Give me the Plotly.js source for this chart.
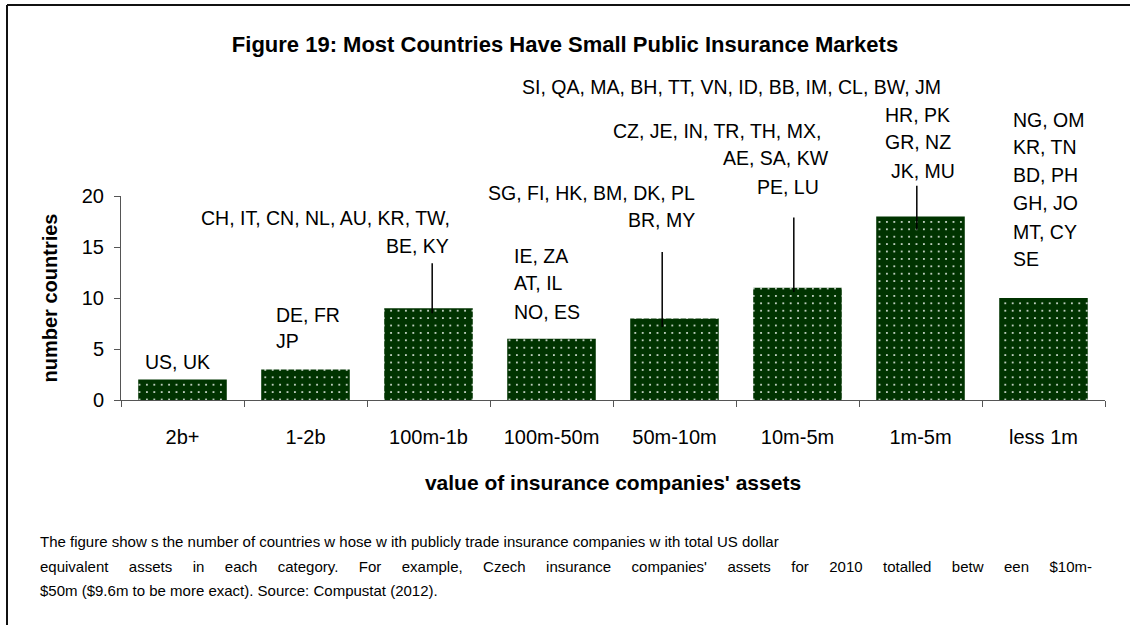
<!DOCTYPE html>
<html>
<head>
<meta charset="utf-8">
<script src="https://cdn.plot.ly/plotly-3.0.1.min.js"></script>
<style>
html,body{margin:0;padding:0;background:#fff;}
#chart{width:1130px;height:625px;}
</style>
</head>
<body>
<div id="chart"></div>
<script>
// ---- data ----
const categories = ["2b+", "1-2b", "100m-1b", "100m-50m", "50m-10m", "10m-5m", "1m-5m", "less 1m"];
const countryCounts = [2, 3, 9, 6, 8, 11, 18, 10];
const countryLabels = [
  ["US, UK"],
  ["DE, FR", "JP"],
  ["CH, IT, CN, NL, AU, KR, TW,", "BE, KY"],
  ["IE, ZA", "AT, IL", "NO, ES"],
  ["SG, FI, HK, BM, DK, PL", "BR, MY"],
  ["CZ, JE, IN, TR, TH, MX,", "AE, SA, KW", "PE, LU"],
  ["SI, QA, MA, BH, TT, VN, ID, BB, IM, CL, BW, JM", "HR, PK", "GR, NZ", "JK, MU"],
  ["NG, OM", "KR, TN", "BD, PH", "GH, JO", "MT, CY", "SE"]
];
const yTicks = [0, 5, 10, 15, 20];
const captionLines = [
  "The figure show s the number of countries w hose w ith publicly trade insurance companies w ith total US dollar",
  "equivalent assets in each category. For example, Czech insurance companies' assets for 2010 totalled betw een $10m-",
  "$50m ($9.6m to be more exact). Source: Compustat (2012)."
];

// ---- label placement (layout only): [xshift px, height in axis units, anchor] per line ----
const labelPlacement = [
  [[-5, 3.73, "center"]],
  [[-31.5, 8.33, "left"], [-31.5, 5.78, "left"]],
  [[23.5, 17.84, "right"], [22.5, 15.1, "right"]],
  [[-39.5, 14.1, "left"], [-39.5, 11.47, "left"], [-39.5, 8.63, "left"]],
  [[22.5, 20.3, "right"], [22.5, 17.65, "right"]],
  [[25.5, 26.4, "right"], [33.5, 23.7, "right"], [23.5, 20.9, "right"]],
  [[22, 30.7, "right"], [-37.5, 27.9, "left"], [-37.5, 25.3, "left"], [-31.5, 22.5, "left"]],
  [[-32.5, 27.5, "left"], [-32.5, 24.8, "left"], [-32.5, 22.06, "left"], [-32.5, 19.3, "left"], [-32.5, 16.5, "left"], [-32.5, 13.8, "left"]]
];
// leader lines: [category position, top, bottom] in axis units
const leaderLines = [
  [2.03, 13.4, 8.5],
  [3.90, 14.5, 7.16],
  [4.97, 17.9, 10.6],
  [5.97, 21.0, 16.7]
];

const FONT = '"Liberation Sans", Arial, Helvetica, sans-serif';
const YMAX = 20;

const trace = {
  type: 'bar',
  x: categories,
  y: countryCounts,
  width: 0.72,
  marker: {
    color: '#003300',
    line: {width: 0},
    pattern: {shape: '.', bgcolor: '#003300', fgcolor: '#e8efe8', size: 7.4, solidity: 0.06, fillmode: 'replace'}
  },
  hoverinfo: 'x+y'
};

const annotations = [];
countryLabels.forEach((lines, ci) => {
  lines.forEach((txt, li) => {
    const p = labelPlacement[ci][li];
    annotations.push({
      xref: 'x', yref: 'paper', x: categories[ci], y: p[1] / YMAX, xshift: p[0],
      xanchor: p[2], yanchor: 'middle', showarrow: false, text: txt,
      font: {family: FONT, size: 19.5, color: '#000'}
    });
  });
});
// caption
const captionY = [541, 566, 590];
captionLines.forEach((txt, i) => {
  annotations.push({
    xref: 'paper', yref: 'paper', x: (38 - 121) / 984, y: (400 - captionY[i]) / 204,
    xanchor: 'left', yanchor: 'middle', showarrow: false, align: 'left', text: txt,
    font: {family: FONT, size: 15, color: '#000'}
  });
});

const shapes = leaderLines.map(l => ({
  type: 'line', xref: 'x', yref: 'paper', x0: l[0], x1: l[0], y0: l[1] / YMAX, y1: l[2] / YMAX,
  line: {color: '#000', width: 1.5}, layer: 'above'
}));
// frame (top and left edges)
shapes.push({type: 'line', xref: 'paper', yref: 'paper', x0: (7 - 121) / 984, x1: (1130 - 121) / 984,
  y0: (400 - 5) / 204, y1: (400 - 5) / 204, line: {color: '#111', width: 2}});
shapes.push({type: 'line', xref: 'paper', yref: 'paper', x0: (7 - 121) / 984, x1: (7 - 121) / 984,
  y0: (400 - 5) / 204, y1: (400 - 626) / 204, line: {color: '#111', width: 2}});

const layout = {
  width: 1130, height: 625,
  margin: {l: 121, r: 25, t: 196, b: 225, autoexpand: false},
  paper_bgcolor: '#fff', plot_bgcolor: '#fff',
  showlegend: false,
  font: {family: FONT, color: '#000'},
  title: {
    text: '<b>Figure 19: Most Countries Have Small Public Insurance Markets</b>',
    font: {family: FONT, size: 22, color: '#000'},
    x: 0.5, xref: 'container', xanchor: 'center',
    y: 1 - 44 / 625, yref: 'container', yanchor: 'middle'
  },
  xaxis: {
    type: 'category',
    tickson: 'boundaries',
    ticks: 'outside', ticklen: 6, tickcolor: '#555', tickwidth: 1,
    showline: true, linecolor: '#555', linewidth: 1,
    showgrid: false, zeroline: false,
    tickfont: {family: FONT, size: 20, color: '#000'},
    ticklabelstandoff: 19,
    title: {text: "<b>value of insurance companies' assets</b>", font: {family: FONT, size: 21, color: '#000'}, standoff: 28},
    fixedrange: true
  },
  yaxis: {
    range: [0, YMAX],
    tickvals: yTicks,
    ticks: 'outside', ticklen: 6, tickcolor: '#555', tickwidth: 1,
    showline: true, linecolor: '#555', linewidth: 1,
    showgrid: false, zeroline: false,
    tickfont: {family: FONT, size: 20, color: '#000'},
    ticklabelstandoff: 6,
    title: {text: '<b>number countries</b>', font: {family: FONT, size: 20, color: '#000'}, standoff: 18},
    fixedrange: true
  },
  bargap: 0.28,
  annotations: annotations,
  shapes: shapes
};

Plotly.newPlot('chart', [trace], layout, {displayModeBar: false, staticPlot: true}).then(gd => {
  // the second caption line is justified across the full width in the original
  document.querySelectorAll('#chart .annotation-text').forEach(t => {
    if (t.textContent === captionLines[1]) {
      const w0 = t.getComputedTextLength();
      const gaps = (captionLines[1].match(/ /g) || []).length;
      t.style.wordSpacing = ((1052 - w0) / gaps) + 'px';
    }
  });
});
</script>
</body>
</html>
